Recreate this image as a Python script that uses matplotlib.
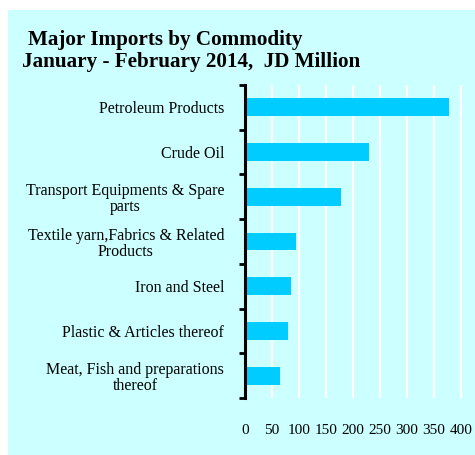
import numpy as np
import matplotlib.pyplot as plt
from matplotlib.patches import Rectangle

# Major imports by commodity, Jan-Feb 2014 (JD million)
commodities = [
    "Petroleum Products",
    "Crude Oil",
    "Transport Equipments & Spare\nparts",
    "Textile yarn,Fabrics & Related\nProducts",
    "Iron and Steel",
    "Plastic & Articles thereof",
    "Meat, Fish and preparations\nthereof",
]
values = [378, 230, 178, 94, 85, 80, 65]
x_ticks = [0, 50, 100, 150, 200, 250, 300, 350, 400]

plt.rcParams['font.family'] = ['Liberation Serif', 'DejaVu Serif']

W, H = 475, 455
fig = plt.figure(figsize=(W / 100, H / 100), dpi=100)
fig.patch.set_facecolor('white')

# light cyan panel behind the whole chart
fig.patches.append(Rectangle((8 / W, 0), 1 - 8 / W, 1 - 10 / H,
                             transform=fig.transFigure, facecolor='#CCFFFF',
                             edgecolor='none', zorder=-5))

fig.text(28 / W, 1 - 40 / H, "Major Imports by Commodity", fontsize=15.2,
         fontweight='bold', va='center', ha='left')
fig.text(22 / W, 1 - 62 / H, "January - February 2014,  JD Million", fontsize=15.2,
         fontweight='bold', va='center', ha='left')

left, right = 245, 473
top, bottom = 85, 398
ax = fig.add_axes([left / W, 1 - bottom / H, (right - left) / W, (bottom - top) / H])
ax.set_facecolor('none')
ax.set_zorder(2)

y = np.arange(len(commodities))
ax.barh(y, values, height=0.4, color='#00CCFF', zorder=2)
ax.set_ylim(len(commodities) - 0.5, -0.5)
ax.set_xlim(0, 400 * (right - left) / (461 - left))

# white vertical gridlines
for v in x_ticks[1:]:
    ax.axvline(v, color='white', lw=1.6, zorder=1)

ax.set_xticks(x_ticks)
ax.set_xticklabels([str(t) for t in x_ticks], fontsize=11)
ax.tick_params(axis='x', length=0, pad=19)

ax.set_yticks(y)
ax.set_yticklabels(commodities, fontsize=11.5, ha='right', multialignment='center',
                   linespacing=1.05)
ax.tick_params(axis='y', which='major', length=0, pad=15)
ax.set_yticks(np.arange(-0.5, len(commodities)), minor=True)
ax.tick_params(axis='y', which='minor', length=4, width=2, direction='out')

for s in ['top', 'right', 'bottom']:
    ax.spines[s].set_visible(False)
ax.spines['left'].set_linewidth(2.2)

fig.savefig("out.png", dpi=100)
